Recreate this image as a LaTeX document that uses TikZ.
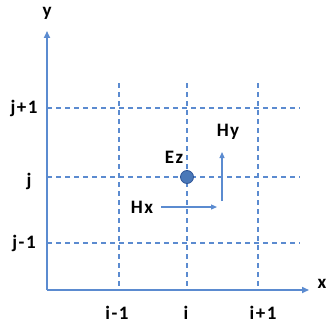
\documentclass[tikz,border=0pt]{standalone}
\usepackage{fontspec}
\setmainfont{Carlito}[LetterSpace=8]
\usetikzlibrary{arrows.meta}
\definecolor{lineblue}{HTML}{5B8BD0}
\definecolor{dotblue}{HTML}{4A78B8}
\definecolor{dotedge}{HTML}{2F5597}
\begin{document}
\begin{tikzpicture}[x=1pt,y=-1pt,
  axis/.style={draw=lineblue,line width=1.6pt,-{Triangle[length=7pt,width=6pt]}},
  grid/.style={draw=lineblue,line width=1.2pt,dash pattern=on 5pt off 4pt},
  field/.style={draw=lineblue,line width=1.2pt,-{Triangle[length=6pt,width=5pt]}},
  lab/.style={font=\bfseries\fontsize{19}{21}\selectfont,text=black,inner sep=0pt}]
\useasboundingbox (0,0) rectangle (328,326);
% axes
\coordinate (O) at (47,290);
\coordinate (Ytop) at (47,31);
\coordinate (Xend) at (309,290);
% grid lines
\coordinate (v1t) at (119,83); \coordinate (v1b) at (119,290);
\coordinate (v2t) at (187,83); \coordinate (v2b) at (187,290);
\coordinate (v3t) at (258,83); \coordinate (v3b) at (258,290);
\coordinate (h1l) at (47,108); \coordinate (h1r) at (300,108);
\coordinate (h2l) at (47,177); \coordinate (h2r) at (300,177);
\coordinate (h3l) at (47,243); \coordinate (h3r) at (300,243);
\draw[grid] (v1t) -- (v1b);
\draw[grid] (v2t) -- (v2b);
\draw[grid] (v3t) -- (v3b);
\draw[grid] (h1l) -- (h1r);
\draw[grid] (h2l) -- (h2r);
\draw[grid] (h3l) -- (h3r);
\draw[axis] (O) -- (Ytop);
\draw[axis] (O) -- (Xend);
% labels
\node[lab] (ylab) at (47,13) {y};
\node[lab] (xlab) at (322,284) {x};
\node[lab] (jp) at (24,108) {j+1};
\node[lab] (j) at (29,181) {j};
\node[lab] (jm) at (24,243) {j-1};
\node[lab] (im) at (117,313) {i-1};
\node[lab] (i) at (186,313) {i};
\node[lab] (ip) at (263,313) {i+1};
% Ez
\node[circle,fill=dotblue,draw=dotedge,line width=0.8pt,minimum size=13pt,inner sep=0pt] (ez) at (187,177) {};
\node[lab] (ezlab) at (174,157) {Ez};
% Hy
\coordinate (hys) at (222,201);
\coordinate (hye) at (222,152);
\draw[field] (hys) -- (hye);
\node[lab] (hylab) at (228,132) {Hy};
% Hx
\coordinate (hxs) at (161,207);
\coordinate (hxe) at (217,207);
\draw[field] (hxs) -- (hxe);
\node[lab] (hxlab) at (142,207) {Hx};
\end{tikzpicture}
\end{document}
